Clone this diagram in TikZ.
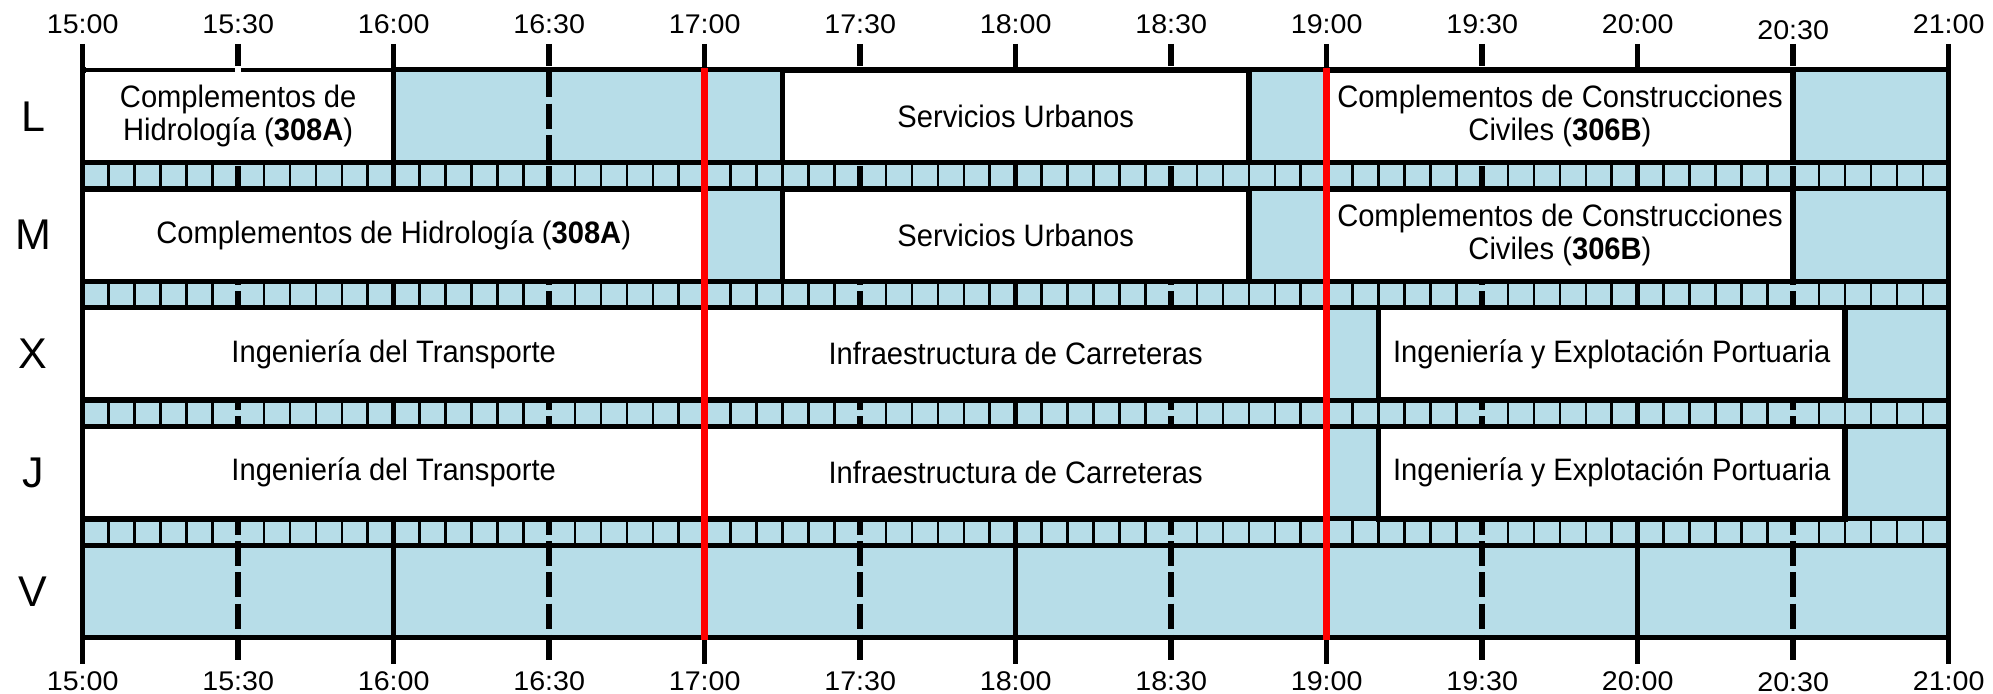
\documentclass[tikz,border=0pt]{standalone}
\usepackage{fontspec}
\setmainfont{Liberation Sans}
\newfontfamily\classfont{Liberation Sans}[FakeStretch=0.94]
\newfontfamily\timefont{Liberation Sans}[FakeStretch=1.06]
\definecolor{slotblue}{RGB}{183,221,232}
\newcommand{\cls}[5]{%
  \pgfmathsetmacro{\cxa}{tx(#3)}%
  \pgfmathsetmacro{\cxb}{tx(#4)}%
  \pgfmathsetmacro{\cyc}{ry(#2)+46.25}%
  \pgfmathsetmacro{\cwd}{(\cxb-\cxa)*0.5}%
  \pgfmathsetmacro{\cxc}{(\cxa+\cxb)/2}%
  \node[classbox, minimum width=\cwd pt, minimum height=46.25pt] (#1) at (\cxc,\cyc) {#5};%
}
\begin{document}
\begin{tikzpicture}[x=0.5pt,y=-0.5pt,
  declare function={tx(\m)=82.7+5.18333*\m; ry(\r)=70+118.8*\r;},
  gridline/.style={line width=2.75pt},
  halfline/.style={line width=2.75pt, dash pattern=on 12.5pt off 3.125pt, dash phase=1.375pt},
  hline/.style={line width=2.5pt},
  thinsep/.style={line width=1.3pt},
  redline/.style={line width=3.25pt, red},
  classbox/.style={draw, fill=white, line width=2.75pt, inner sep=0pt, align=center,
    font=\classfont\fontsize{15.5pt}{16.5pt}\selectfont},
  timelabel/.style={font=\timefont\fontsize{13.5pt}{15pt}\selectfont, inner sep=0pt},
  daylabel/.style={font=\fontsize{21.5pt}{24pt}\selectfont, inner sep=0pt}
]
\useasboundingbox (0,0) rectangle (1993,694);
% background
\fill[slotblue] ({tx(0)},{ry(0)}) rectangle ({tx(360)},{ry(4)+92.5});
% hour and half-hour lines
\foreach \h in {0,...,6} \draw[gridline] ({tx(60*\h)},44) -- ({tx(60*\h)},664);
\foreach \h in {0,...,5} \draw[halfline] ({tx(60*\h+30)},44) -- ({tx(60*\h+30)},664);
% classes
\cls{l1}{0}{0}{60}{Complementos de\\Hidrología (\textbf{308A})}
\cls{l2}{0}{135}{225}{Servicios Urbanos}
\cls{l3}{0}{240}{330}{Complementos de Construcciones\\Civiles (\textbf{306B})}
\cls{m1}{1}{0}{120}{Complementos de Hidrología (\textbf{308A})}
\cls{m2}{1}{135}{225}{Servicios Urbanos}
\cls{m3}{1}{240}{330}{Complementos de Construcciones\\Civiles (\textbf{306B})}
\cls{x1}{2}{0}{120}{Ingeniería del Transporte}
\cls{x2}{2}{120}{240}{Infraestructura de Carreteras}
\cls{x3}{2}{250}{340}{Ingeniería y Explotación Portuaria}
\cls{j1}{3}{0}{120}{Ingeniería del Transporte}
\cls{j2}{3}{120}{240}{Infraestructura de Carreteras}
\cls{j3}{3}{250}{340}{Ingeniería y Explotación Portuaria}
% strip separators every 5 minutes
\foreach \r in {0,...,3} {
  \foreach \k in {1,...,71} {
    \pgfmathtruncatemacro{\md}{mod(\k,6)}
    \ifnum\md>0
      \draw[thinsep] ({tx(5*\k)},{ry(\r)+92.5}) -- ({tx(5*\k)},{ry(\r+1)});
    \fi
  }
}
% horizontal lines
\foreach \r in {0,...,4} {
  \draw[hline] ({tx(0)},{ry(\r)}) -- ({tx(360)},{ry(\r)});
  \draw[hline] ({tx(0)},{ry(\r)+92.5}) -- ({tx(360)},{ry(\r)+92.5});
}
% thinner top edge of the first class, with a small break at 15:30
\draw[white, line width=2.6pt] ({tx(0)+2.8},{ry(0)}) -- ({tx(60)-2.8},{ry(0)});
\draw[line width=1.75pt] ({tx(0)},{ry(0)}) -- ({tx(30)-3},{ry(0)});
\draw[line width=1.75pt] ({tx(30)+3},{ry(0)}) -- ({tx(60)},{ry(0)});
% red lines
\draw[redline] ({tx(120)},68) -- ({tx(120)},640);
\draw[redline] ({tx(240)},68) -- ({tx(240)},640);
% time labels
\foreach \m/\t/\ya/\yb in {0/15:00/24.5/681, 30/15:30/24.5/681, 60/16:00/24.5/681, 90/16:30/24.5/681,
  120/17:00/24.5/681, 150/17:30/24.5/681, 180/18:00/24.5/681, 210/18:30/24.5/681,
  240/19:00/24.5/681, 270/19:30/24.5/681, 300/20:00/24.5/681, 330/20:30/30/682, 360/21:00/24.5/681} {
  \node[timelabel] (top\m) at ({tx(\m)},\ya) {\t};
  \node[timelabel] (bot\m) at ({tx(\m)},\yb) {\t};
}
% day labels
\foreach \d [count=\i from 0] in {L,M,X,J,V}
  \node[daylabel] (day\d) at (33,{ry(\i)+46.25}) {\d};
\end{tikzpicture}
\end{document}
